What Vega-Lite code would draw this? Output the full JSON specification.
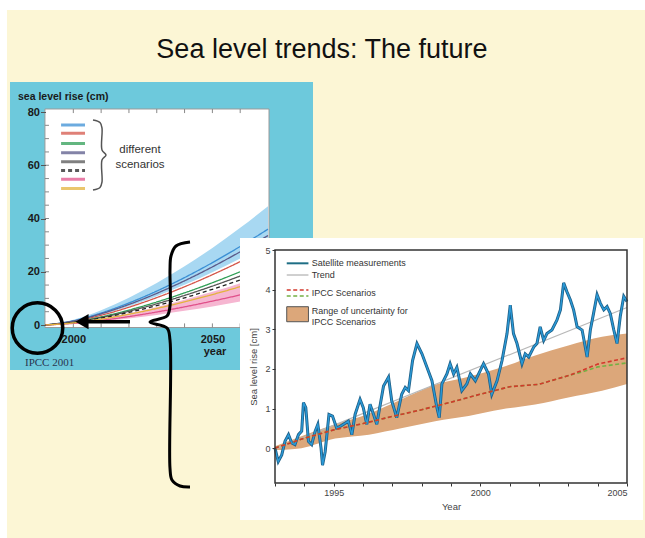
{
"$schema": "https://vega.github.io/schema/vega-lite/v6.json",
"width": 645,
"height": 538,
"autosize": {"type": "none"},
"padding": 0,
"background": "#ffffff",
"config": {"view": {"stroke": null}, "axis": {"grid": false, "labelFont": "Liberation Sans", "titleFont": "Liberation Sans"}, "text": {"font": "Liberation Sans"}},
"datasets": {
"ipcc2001": [
{"year":1990,"scenario":"s1","value":0},{"year":2000,"scenario":"s1","value":1.59},{"year":2010,"scenario":"s1","value":4.5},{"year":2020,"scenario":"s1","value":8.28},{"year":2030,"scenario":"s1","value":12.74},{"year":2040,"scenario":"s1","value":17.81},{"year":2050,"scenario":"s1","value":23.41},{"year":2060,"scenario":"s1","value":29.5},{"year":2070,"scenario":"s1","value":36.0},
{"year":1990,"scenario":"s2","value":0},{"year":2000,"scenario":"s2","value":1.29},{"year":2010,"scenario":"s2","value":3.63},{"year":2020,"scenario":"s2","value":6.68},{"year":2030,"scenario":"s2","value":10.28},{"year":2040,"scenario":"s2","value":14.37},{"year":2050,"scenario":"s2","value":18.89},{"year":2060,"scenario":"s2","value":23.8},{"year":2070,"scenario":"s2","value":29.1},
{"year":1990,"scenario":"s3","value":0},{"year":2000,"scenario":"s3","value":1.08},{"year":2010,"scenario":"s3","value":3.05},{"year":2020,"scenario":"s3","value":5.61},{"year":2030,"scenario":"s3","value":8.64},{"year":2040,"scenario":"s3","value":12.07},{"year":2050,"scenario":"s3","value":15.87},{"year":2060,"scenario":"s3","value":20.0},{"year":2070,"scenario":"s3","value":24.4},
{"year":1990,"scenario":"s4","value":0},{"year":2000,"scenario":"s4","value":1.49},{"year":2010,"scenario":"s4","value":4.2},{"year":2020,"scenario":"s4","value":7.72},{"year":2030,"scenario":"s4","value":11.88},{"year":2040,"scenario":"s4","value":16.6},{"year":2050,"scenario":"s4","value":21.82},{"year":2060,"scenario":"s4","value":27.5},{"year":2070,"scenario":"s4","value":33.6},
{"year":1990,"scenario":"s5","value":0},{"year":2000,"scenario":"s5","value":0.99},{"year":2010,"scenario":"s5","value":2.81},{"year":2020,"scenario":"s5","value":5.16},{"year":2030,"scenario":"s5","value":7.95},{"year":2040,"scenario":"s5","value":11.11},{"year":2050,"scenario":"s5","value":14.6},{"year":2060,"scenario":"s5","value":18.4},{"year":2070,"scenario":"s5","value":22.5},
{"year":1990,"scenario":"s6","value":0},{"year":2000,"scenario":"s6","value":0.91},{"year":2010,"scenario":"s6","value":2.58},{"year":2020,"scenario":"s6","value":4.74},{"year":2030,"scenario":"s6","value":7.3},{"year":2040,"scenario":"s6","value":10.2},{"year":2050,"scenario":"s6","value":13.41},{"year":2060,"scenario":"s6","value":16.9},{"year":2070,"scenario":"s6","value":20.6},
{"year":1990,"scenario":"s7","value":0},{"year":2000,"scenario":"s7","value":0.61},{"year":2010,"scenario":"s7","value":1.73},{"year":2020,"scenario":"s7","value":3.17},{"year":2030,"scenario":"s7","value":4.88},{"year":2040,"scenario":"s7","value":6.82},{"year":2050,"scenario":"s7","value":8.97},{"year":2060,"scenario":"s7","value":11.3},{"year":2070,"scenario":"s7","value":13.8},
{"year":1990,"scenario":"s8","value":0},{"year":2000,"scenario":"s8","value":0.78},{"year":2010,"scenario":"s8","value":2.2},{"year":2020,"scenario":"s8","value":4.04},{"year":2030,"scenario":"s8","value":6.22},{"year":2040,"scenario":"s8","value":8.69},{"year":2050,"scenario":"s8","value":11.43},{"year":2060,"scenario":"s8","value":14.4},{"year":2070,"scenario":"s8","value":17.6}
],
"ipcc2001bands": [
{"year":1990,"blueLo":0,"blueHi":0,"pinkLo":0,"pinkHi":0},
{"year":2000,"blueLo":1.35,"blueHi":1.97,"pinkLo":0.48,"pinkHi":0.85},
{"year":2010,"blueLo":3.82,"blueHi":5.57,"pinkLo":1.34,"pinkHi":2.4},
{"year":2020,"blueLo":7.02,"blueHi":10.24,"pinkLo":2.47,"pinkHi":4.41},
{"year":2030,"blueLo":10.8,"blueHi":15.76,"pinkLo":3.8,"pinkHi":6.78},
{"year":2040,"blueLo":15.09,"blueHi":22.04,"pinkLo":5.31,"pinkHi":9.48},
{"year":2050,"blueLo":19.84,"blueHi":28.96,"pinkLo":6.98,"pinkHi":12.46},
{"year":2060,"blueLo":25.0,"blueHi":36.5,"pinkLo":8.8,"pinkHi":15.7},
{"year":2070,"blueLo":30.5,"blueHi":44.6,"pinkLo":10.75,"pinkHi":19.2}
],
"scenarioLegend": [
{"scenario":"s1","slot":75.1},{"scenario":"s2","slot":72.0},{"scenario":"s3","slot":68.2},{"scenario":"s4","slot":64.7},
{"scenario":"s5","slot":61.3},{"scenario":"s6","slot":58.0},{"scenario":"s7","slot":54.7},{"scenario":"s8","slot":51.3}
],
"tickYears": [{"year":2000},{"year":2010},{"year":2020},{"year":2030},{"year":2040},{"year":2050},{"year":2060}],
"tickCm": [{"cm":5},{"cm":10},{"cm":15},{"cm":20},{"cm":25},{"cm":30},{"cm":35},{"cm":40},{"cm":45},{"cm":50},{"cm":55},{"cm":60},{"cm":65},{"cm":70},{"cm":75}],
"smallBrace": [
{"i":1,"x":2007.08,"y":77.0},{"i":2,"x":2009.6,"y":76.06},{"i":3,"x":2010.31,"y":73.99},{"i":4,"x":2010.31,"y":65.73},{"i":5,"x":2011.75,"y":63.85},
{"i":6,"x":2010.31,"y":61.97},{"i":7,"x":2010.31,"y":53.71},{"i":8,"x":2009.6,"y":51.64},{"i":9,"x":2007.08,"y":50.7}
],
"bigBrace": [
{"i":1,"x":2041.96,"y":31.17},{"i":2,"x":2036.92,"y":29.67},{"i":3,"x":2035.12,"y":25.92},{"i":4,"x":2034.76,"y":20.66},{"i":5,"x":2034.76,"y":7.14},
{"i":6,"x":2033.69,"y":3.38},{"i":7,"x":2027.57,"y":1.13},{"i":8,"x":2033.69,"y":-1.13},{"i":9,"x":2034.76,"y":-5.63},{"i":10,"x":2034.76,"y":-53.71},
{"i":11,"x":2035.48,"y":-58.22},{"i":12,"x":2038.36,"y":-60.47},{"i":13,"x":2041.96,"y":-60.85}
],
"satellite": [
{"year":1993.00,"cm":0.00},{"year":1993.11,"cm":-0.34},{"year":1993.23,"cm":-0.17},{"year":1993.34,"cm":0.17},{"year":1993.46,"cm":0.34},{"year":1993.57,"cm":0.13},{"year":1993.68,"cm":0.09},{"year":1993.80,"cm":0.34},{"year":1993.91,"cm":0.43},{"year":1993.97,"cm":1.15},
{"year":1994.05,"cm":1.02},{"year":1994.14,"cm":0.17},{"year":1994.25,"cm":0.09},{"year":1994.37,"cm":0.43},{"year":1994.46,"cm":0.60},{"year":1994.57,"cm":0.00},{"year":1994.62,"cm":-0.43},{"year":1994.71,"cm":-0.09},{"year":1994.84,"cm":0.85},{"year":1994.96,"cm":0.81},
{"year":1995.10,"cm":0.51},{"year":1995.22,"cm":0.55},{"year":1995.33,"cm":0.60},{"year":1995.50,"cm":0.68},{"year":1995.62,"cm":0.34},{"year":1995.73,"cm":0.85},{"year":1995.90,"cm":1.23},{"year":1996.01,"cm":1.02},{"year":1996.13,"cm":0.60},{"year":1996.24,"cm":1.11},
{"year":1996.36,"cm":0.85},{"year":1996.47,"cm":0.60},{"year":1996.70,"cm":1.57},{"year":1996.87,"cm":1.79},{"year":1996.98,"cm":1.19},{"year":1997.15,"cm":0.77},{"year":1997.32,"cm":1.36},{"year":1997.44,"cm":1.53},{"year":1997.55,"cm":1.45},{"year":1997.69,"cm":2.21},
{"year":1997.84,"cm":2.64},{"year":1998.01,"cm":2.38},{"year":1998.18,"cm":2.04},{"year":1998.35,"cm":1.70},{"year":1998.52,"cm":1.02},{"year":1998.60,"cm":0.77},{"year":1998.69,"cm":1.62},{"year":1998.86,"cm":1.87},{"year":1998.97,"cm":2.13},{"year":1999.09,"cm":1.87},
{"year":1999.20,"cm":2.04},{"year":1999.37,"cm":1.45},{"year":1999.54,"cm":1.62},{"year":1999.66,"cm":1.87},{"year":1999.83,"cm":1.70},{"year":2000.00,"cm":1.96},{"year":2000.11,"cm":2.13},{"year":2000.28,"cm":1.87},{"year":2000.39,"cm":1.36},{"year":2000.57,"cm":1.70},
{"year":2000.74,"cm":2.21},{"year":2000.91,"cm":2.89},{"year":2001.02,"cm":3.61},{"year":2001.13,"cm":2.89},{"year":2001.25,"cm":2.64},{"year":2001.42,"cm":2.13},{"year":2001.53,"cm":2.38},{"year":2001.65,"cm":2.30},{"year":2001.82,"cm":2.55},{"year":2001.93,"cm":2.64},
{"year":2002.04,"cm":3.06},{"year":2002.16,"cm":2.72},{"year":2002.27,"cm":2.89},{"year":2002.44,"cm":2.98},{"year":2002.61,"cm":3.23},{"year":2002.73,"cm":3.49},{"year":2002.84,"cm":4.17},{"year":2002.95,"cm":3.95},{"year":2003.07,"cm":3.74},{"year":2003.18,"cm":3.49},
{"year":2003.30,"cm":3.06},{"year":2003.47,"cm":2.98},{"year":2003.64,"cm":2.30},{"year":2003.75,"cm":2.98},{"year":2003.86,"cm":3.40},{"year":2003.98,"cm":3.87},{"year":2004.09,"cm":3.66},{"year":2004.21,"cm":3.49},{"year":2004.32,"cm":3.57},{"year":2004.43,"cm":3.40},
{"year":2004.55,"cm":2.98},{"year":2004.66,"cm":2.64},{"year":2004.77,"cm":3.32},{"year":2004.89,"cm":3.83},{"year":2005.00,"cm":3.70}
],
"trend": [{"year":1993,"cm":-0.02},{"year":2005,"cm":3.55}],
"ipccProjection": [
{"year":1993,"red":0,"green":0},{"year":1994,"red":0.25,"green":0.25},{"year":1995,"red":0.46,"green":0.46},{"year":1996,"red":0.62,"green":0.62},
{"year":1997,"red":0.8,"green":0.8},{"year":1998,"red":0.97,"green":0.97},{"year":1999,"red":1.16,"green":1.16},{"year":2000,"red":1.36,"green":1.36},
{"year":2001,"red":1.55,"green":1.55},{"year":2002,"red":1.61,"green":1.61},{"year":2003,"red":1.83,"green":1.83},{"year":2003.5,"red":1.97,"green":1.93},
{"year":2004,"red":2.12,"green":2.05},{"year":2005,"red":2.28,"green":2.15}
],
"uncertainty": [
{"year":1993.0,"lo":-0.05,"hi":0.05},{"year":1993.9,"lo":0.0,"hi":0.3},{"year":1995.05,"lo":0.24,"hi":0.6},{"year":1996.2,"lo":0.34,"hi":0.87},
{"year":1997.3,"lo":0.5,"hi":1.23},{"year":1998.46,"lo":0.68,"hi":1.6},{"year":1999.6,"lo":0.81,"hi":1.8},{"year":2000.74,"lo":0.98,"hi":2.04},
{"year":2001.87,"lo":1.1,"hi":2.34},{"year":2003.0,"lo":1.28,"hi":2.59},{"year":2004.15,"lo":1.45,"hi":2.81},{"year":2005.0,"lo":1.62,"hi":2.89}
]
},
"layer": [
{
"layer": [
{"data": {"values": [{}]}, "mark": {"type": "rect", "fill": "#fcf6d5"},
 "encoding": {
  "x": {"datum": 1976.15, "type": "quantitative", "scale": {"domain": [1990, 2070], "range": [45.5, 268], "nice": false, "zero": false},
        "axis": {"orient": "bottom", "offset": -211, "values": [2000, 2050], "format": "d", "domain": false, "ticks": false, "labelPadding": 6, "labelFontSize": 11, "labelFontWeight": "bold", "labelColor": "#1a1a1a", "title": null, "zindex": 1}},
  "x2": {"datum": 2205.6},
  "y": {"datum": 118.3, "type": "quantitative", "scale": {"domain": [0, 80], "range": [325, 112], "nice": false, "zero": false},
        "axis": {"orient": "left", "offset": -45.5, "values": [0, 20, 40, 60, 80], "format": "d", "domain": false, "tickSize": 5, "tickColor": "#555555", "labelPadding": 1, "labelFontSize": 11, "labelFontWeight": "bold", "labelColor": "#1a1a1a", "title": null, "zindex": 1}},
  "y2": {"datum": -80}}},
{"data": {"values": [{}]}, "mark": {"type": "text", "text": "Sea level trends: The future", "fontSize": 27, "color": "#111111", "align": "center", "baseline": "middle"},
 "encoding": {"x": {"datum": 2089.4, "type": "quantitative"}, "y": {"datum": 103.3, "type": "quantitative"}}},
{"data": {"values": [{}]}, "mark": {"type": "rect", "fill": "#6dc9dc"},
 "encoding": {"x": {"datum": 1977.24, "type": "quantitative"}, "x2": {"datum": 2086.18}, "y": {"datum": 91.27, "type": "quantitative"}, "y2": {"datum": -16.9}}},
{"data": {"values": [{}]}, "mark": {"type": "rect", "fill": "#ffffff", "stroke": "#9a9a9a", "strokeWidth": 1},
 "encoding": {"x": {"datum": 1989.8, "type": "quantitative"}, "x2": {"datum": 2070.36}, "y": {"datum": 81.13, "type": "quantitative"}, "y2": {"datum": -0.94}}},
{"data": {"name": "ipcc2001bands"}, "mark": {"type": "area", "color": "#a8d8f2", "interpolate": "monotone"},
 "encoding": {"x": {"field": "year", "type": "quantitative"}, "y": {"field": "blueLo", "type": "quantitative"}, "y2": {"field": "blueHi"}}},
{"data": {"name": "ipcc2001bands"}, "mark": {"type": "area", "color": "#f6b6d1", "interpolate": "monotone"},
 "encoding": {"x": {"field": "year", "type": "quantitative"}, "y": {"field": "pinkLo", "type": "quantitative"}, "y2": {"field": "pinkHi"}}},
{"data": {"name": "ipcc2001"}, "mark": {"type": "line", "strokeWidth": 1.3, "interpolate": "monotone"},
 "encoding": {
  "x": {"field": "year", "type": "quantitative"},
  "y": {"field": "value", "type": "quantitative"},
  "color": {"field": "scenario", "type": "nominal", "scale": {"domain": ["s1","s2","s3","s4","s5","s6","s7","s8"], "range": ["#3b8fd4","#d4564a","#2f9e55","#5a5a8a","#555555","#222222","#e0508a","#e3b33c"]}, "legend": null},
  "strokeDash": {"field": "scenario", "type": "nominal", "scale": {"domain": ["s1","s2","s3","s4","s5","s6","s7","s8"], "range": [[1,0],[1,0],[1,0],[1,0],[1,0],[4,3],[1,0],[1,0]]}, "legend": null}}},
{"data": {"name": "tickYears"}, "mark": {"type": "rule", "color": "#888888"},
 "encoding": {"x": {"field": "year", "type": "quantitative"}, "y": {"datum": 81.13, "type": "quantitative"}, "y2": {"datum": 79.6}}},
{"data": {"name": "tickYears"}, "mark": {"type": "rule", "color": "#888888"},
 "encoding": {"x": {"field": "year", "type": "quantitative"}, "y": {"datum": -0.94, "type": "quantitative"}, "y2": {"datum": 0.6}}},
{"data": {"name": "tickCm"}, "mark": {"type": "rule", "color": "#888888"},
 "encoding": {"y": {"field": "cm", "type": "quantitative"}, "x": {"datum": 1989.8, "type": "quantitative"}, "x2": {"datum": 1991.25}}},
{"data": {"name": "scenarioLegend"}, "mark": {"type": "rule", "strokeWidth": 3, "opacity": 0.75},
 "encoding": {
  "x": {"datum": 1995.6, "type": "quantitative"}, "x2": {"datum": 2004.2},
  "y": {"field": "slot", "type": "quantitative"},
  "color": {"field": "scenario", "type": "nominal", "legend": null},
  "strokeDash": {"field": "scenario", "type": "nominal", "legend": null}}},
{"data": {"name": "smallBrace"}, "mark": {"type": "line", "color": "#555555", "strokeWidth": 1.5, "interpolate": "catmull-rom"},
 "encoding": {"x": {"field": "x", "type": "quantitative"}, "y": {"field": "y", "type": "quantitative"}, "order": {"field": "i"}}},
{"data": {"values": [{}]}, "mark": {"type": "text", "text": "different", "fontSize": 11.5, "color": "#333333", "align": "center", "baseline": "middle"},
 "encoding": {"x": {"datum": 2023.98, "type": "quantitative"}, "y": {"datum": 65.7, "type": "quantitative"}}},
{"data": {"values": [{}]}, "mark": {"type": "text", "text": "scenarios", "fontSize": 11.5, "color": "#333333", "align": "center", "baseline": "middle"},
 "encoding": {"x": {"datum": 2023.98, "type": "quantitative"}, "y": {"datum": 60.1, "type": "quantitative"}}},
{"data": {"values": [{}]}, "mark": {"type": "text", "text": "sea level rise (cm)", "fontSize": 10.5, "fontWeight": "bold", "color": "#1a1a1a", "align": "left", "baseline": "middle"},
 "encoding": {"x": {"datum": 1980.11, "type": "quantitative"}, "y": {"datum": 85.63, "type": "quantitative"}}},
{"data": {"values": [{}]}, "mark": {"type": "text", "text": "year", "fontSize": 11, "fontWeight": "bold", "color": "#1a1a1a", "align": "center", "baseline": "middle"},
 "encoding": {"x": {"datum": 2050.95, "type": "quantitative"}, "y": {"datum": -10.14, "type": "quantitative"}}},
{"data": {"values": [{}]}, "mark": {"type": "text", "text": "IPCC 2001", "font": "Liberation Serif", "fontSize": 11, "color": "#2a3550", "align": "left", "baseline": "middle"},
 "encoding": {"x": {"datum": 1982.63, "type": "quantitative"}, "y": {"datum": -14.27, "type": "quantitative"}}},
{"data": {"values": [{}]}, "mark": {"type": "point", "shape": "circle", "size": 2550, "filled": false, "stroke": "#000000", "strokeWidth": 3.5, "opacity": 1},
 "encoding": {"x": {"datum": 1987.12, "type": "quantitative"}, "y": {"datum": -1.13, "type": "quantitative"}}},
{"data": {"values": [{}]}, "mark": {"type": "rule", "color": "#000000", "strokeWidth": 3.5},
 "encoding": {"x": {"datum": 2005.28, "type": "quantitative"}, "x2": {"datum": 2020.38}, "y": {"datum": 1.24, "type": "quantitative"}}},
{"data": {"values": [{}]}, "mark": {"type": "point", "shape": "triangle-left", "size": 230, "filled": true, "color": "#000000", "opacity": 1},
 "encoding": {"x": {"datum": 2003.12, "type": "quantitative"}, "y": {"datum": 1.24, "type": "quantitative"}}},
{"data": {"name": "bigBrace"}, "mark": {"type": "line", "color": "#000000", "strokeWidth": 3, "interpolate": "catmull-rom"},
 "encoding": {"x": {"field": "x", "type": "quantitative"}, "y": {"field": "y", "type": "quantitative"}, "order": {"field": "i"}}}
]
},
{
"layer": [
{"data": {"values": [{}]}, "mark": {"type": "rect", "fill": "#ffffff"},
 "encoding": {
  "x": {"datum": 1991.807, "type": "quantitative", "scale": {"domain": [1993, 2005], "range": [275, 627], "nice": false, "zero": false},
        "axis": {"orient": "bottom", "offset": -55, "values": [1993,1994,1995,1996,1997,1998,1999,2000,2001,2002,2003,2004,2005], "format": "d", "labelExpr": "datum.value % 5 === 0 ? datum.label : ''", "domain": false, "tickSize": 3, "tickColor": "#333333", "labelFontSize": 9, "labelColor": "#444444", "labelPadding": 2, "title": "Year", "titleFontSize": 9.5, "titleFontWeight": "normal", "titleColor": "#444444", "titlePadding": 4, "zindex": 1}},
  "x2": {"datum": 2005.545},
  "y": {"datum": 5.303, "type": "quantitative", "scale": {"domain": [-0.88, 5], "range": [483, 250], "nice": false, "zero": false},
        "axis": {"orient": "left", "offset": -275, "values": [0,1,2,3,4,5], "format": "d", "domain": false, "tickSize": 3, "tickColor": "#333333", "labelFontSize": 9, "labelColor": "#444444", "labelPadding": 2, "title": "Sea level rise [cm]", "titleFontSize": 9.5, "titleFontWeight": "normal", "titleColor": "#444444", "titlePadding": 6, "zindex": 1}},
  "y2": {"datum": -1.814}}},
{"data": {"name": "uncertainty"}, "mark": {"type": "area", "color": "#dca77a", "interpolate": "monotone"},
 "encoding": {"x": {"field": "year", "type": "quantitative"}, "y": {"field": "lo", "type": "quantitative"}, "y2": {"field": "hi"}}},
{"data": {"name": "trend"}, "mark": {"type": "line", "color": "#b8b8b8", "strokeWidth": 1.2},
 "encoding": {"x": {"field": "year", "type": "quantitative"}, "y": {"field": "cm", "type": "quantitative"}}},
{"data": {"name": "satellite"}, "mark": {"type": "line", "color": "#1f5f86", "strokeWidth": 3},
 "encoding": {"x": {"field": "year", "type": "quantitative"}, "y": {"field": "cm", "type": "quantitative"}}},
{"data": {"name": "satellite"}, "mark": {"type": "line", "color": "#2a9ad8", "strokeWidth": 1.4},
 "encoding": {"x": {"field": "year", "type": "quantitative"}, "y": {"field": "cm", "type": "quantitative"}}},
{"data": {"name": "ipccProjection"}, "mark": {"type": "line", "color": "#74b043", "strokeWidth": 1.6, "strokeDash": [4, 2.5]},
 "encoding": {"x": {"field": "year", "type": "quantitative"}, "y": {"field": "green", "type": "quantitative"}}},
{"data": {"name": "ipccProjection"}, "mark": {"type": "line", "color": "#d4382c", "strokeWidth": 1.6, "strokeDash": [4, 2.5]},
 "encoding": {"x": {"field": "year", "type": "quantitative"}, "y": {"field": "red", "type": "quantitative"}}},
{"data": {"values": [{}]}, "mark": {"type": "rect", "fill": "#ffffff", "fillOpacity": 0, "stroke": "#333333", "strokeWidth": 1.5},
 "encoding": {"x": {"datum": 1993, "type": "quantitative"}, "x2": {"datum": 2005}, "y": {"datum": 5, "type": "quantitative"}, "y2": {"datum": -0.88}}},
{"data": {"values": [{}]}, "mark": {"type": "rule", "color": "#1e6e85", "strokeWidth": 2},
 "encoding": {"x": {"datum": 1993.4, "type": "quantitative"}, "x2": {"datum": 1994.14}, "y": {"datum": 4.664, "type": "quantitative"}}},
{"data": {"values": [{}]}, "mark": {"type": "rule", "color": "#c0c0c0", "strokeWidth": 1.5},
 "encoding": {"x": {"datum": 1993.4, "type": "quantitative"}, "x2": {"datum": 1994.14}, "y": {"datum": 4.369, "type": "quantitative"}}},
{"data": {"values": [{}]}, "mark": {"type": "rule", "color": "#d4382c", "strokeWidth": 1.6, "strokeDash": [4, 2.5]},
 "encoding": {"x": {"datum": 1993.4, "type": "quantitative"}, "x2": {"datum": 1994.14}, "y": {"datum": 3.99, "type": "quantitative"}}},
{"data": {"values": [{}]}, "mark": {"type": "rule", "color": "#74b043", "strokeWidth": 1.6, "strokeDash": [4, 2.5]},
 "encoding": {"x": {"datum": 1993.4, "type": "quantitative"}, "x2": {"datum": 1994.14}, "y": {"datum": 3.839, "type": "quantitative"}}},
{"data": {"values": [{}]}, "mark": {"type": "rect", "fill": "#dca77a", "stroke": "#555555", "strokeWidth": 1},
 "encoding": {"x": {"datum": 1993.4, "type": "quantitative"}, "x2": {"datum": 1994.14}, "y": {"datum": 3.569, "type": "quantitative"}, "y2": {"datum": 3.19}}},
{"data": {"values": [{}]}, "mark": {"type": "text", "text": "Satellite measurements", "fontSize": 9, "color": "#333333", "align": "left", "baseline": "middle"},
 "encoding": {"x": {"datum": 1994.25, "type": "quantitative"}, "y": {"datum": 4.664, "type": "quantitative"}}},
{"data": {"values": [{}]}, "mark": {"type": "text", "text": "Trend", "fontSize": 9, "color": "#333333", "align": "left", "baseline": "middle"},
 "encoding": {"x": {"datum": 1994.25, "type": "quantitative"}, "y": {"datum": 4.369, "type": "quantitative"}}},
{"data": {"values": [{}]}, "mark": {"type": "text", "text": "IPCC Scenarios", "fontSize": 9, "color": "#333333", "align": "left", "baseline": "middle"},
 "encoding": {"x": {"datum": 1994.25, "type": "quantitative"}, "y": {"datum": 3.922, "type": "quantitative"}}},
{"data": {"values": [{}]}, "mark": {"type": "text", "text": ["Range of uncertainty for", "IPCC Scenarios"], "lineHeight": 11, "fontSize": 9, "color": "#333333", "align": "left", "baseline": "middle"},
 "encoding": {"x": {"datum": 1994.25, "type": "quantitative"}, "y": {"datum": 3.468, "type": "quantitative"}}}
]
}
],
"resolve": {"scale": {"x": "independent", "y": "independent"}}
}
